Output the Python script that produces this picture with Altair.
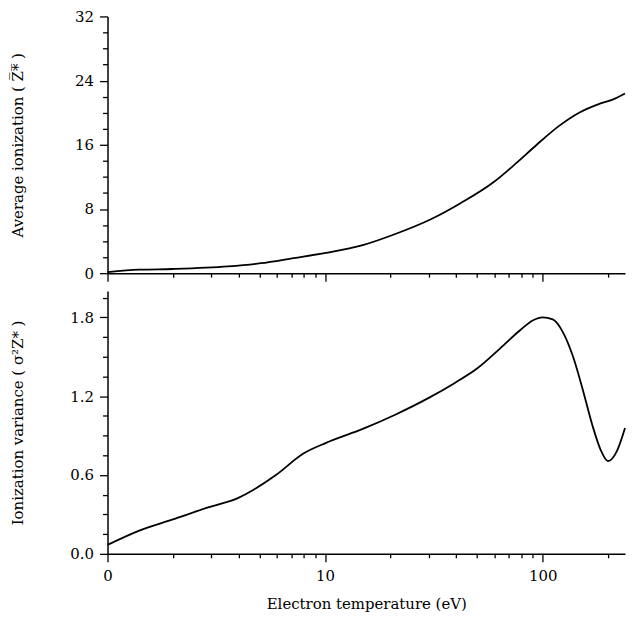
import altair as alt
import pandas as pd

# ---- data ----
temp_avg = [1.0, 1.40, 1.98, 3.58, 5.06, 7.16, 10.1, 14.9, 20.3, 30.8, 42.1, 59.6,
            76.0, 93.6, 119.4, 147.0, 181.0, 208.0, 239.0]
z_avg = [0.12, 0.43, 0.52, 0.84, 1.24, 1.88, 2.53, 3.50, 4.73, 6.75, 8.75, 11.36,
         13.77, 15.98, 18.39, 20.0, 21.08, 21.6, 22.4]

temp_var = [1.0, 1.40, 1.98, 2.90, 3.97, 5.92, 7.95, 10.1, 14.9, 21.0, 29.8, 39.3,
            50.1, 63.8, 78.7, 90.4, 99.7, 111.3, 123.6, 137.1, 152.2, 168.9, 184.4,
            199.6, 219.3, 239.0]
z_var = [0.068, 0.177, 0.26, 0.353, 0.424, 0.598, 0.764, 0.845, 0.951, 1.059, 1.185,
         1.299, 1.412, 1.564, 1.702, 1.778, 1.80, 1.785, 1.69, 1.513, 1.261, 0.983,
         0.794, 0.706, 0.782, 0.958]

x_major = [1, 10, 100]
x_minor = [2, 3, 4, 5, 6, 7, 8, 9, 20, 30, 40, 50, 60, 70, 80, 90, 200]
y1_major = [0, 8, 16, 24, 32]
y1_minor = [2, 4, 6, 10, 12, 14, 18, 20, 22, 26, 28, 30]
y2_major = [0.0, 0.6, 1.2, 1.8]
y2_minor = [0.15, 0.3, 0.45, 0.75, 0.9, 1.05, 1.35, 1.5, 1.65, 1.95]

df1 = pd.DataFrame({"T": temp_avg, "v": z_avg})
df2 = pd.DataFrame({"T": temp_var, "v": z_var})

FONT = "DejaVu Serif"
W = 520
H1 = 258
H2 = 264
xscale = alt.Scale(type="log", domain=[1, 239], nice=False)


def panel(df, ydomain, ymaj, ymin, yformat, ytitle, show_x_labels, H):
    yscale = alt.Scale(domain=ydomain, nice=False, zero=False)
    x_major_axis = alt.Axis(
        values=x_major, tickSize=8, labels=show_x_labels, format="d",
        labelExpr="datum.value == 1 ? '0' : datum.label",
        title="Electron temperature (eV)" if show_x_labels else None,
        labelPadding=7, titlePadding=13, labelFlush=False,
    )
    y_major_axis = alt.Axis(
        values=ymaj, tickSize=8, format=yformat, title=ytitle,
        titleX=-82, titleY=H / 2, labelPadding=6,
    )
    base = alt.Chart(df)
    main = base.mark_line(color="black", strokeWidth=1.8, interpolate="monotone").encode(
        x=alt.X("T:Q", scale=xscale, axis=x_major_axis),
        y=alt.Y("v:Q", scale=yscale, axis=y_major_axis),
    )
    minor = base.mark_line(strokeOpacity=0, interpolate="monotone").encode(
        x=alt.X("T:Q", scale=xscale,
                axis=alt.Axis(values=x_minor, tickSize=4, labels=False, domain=False,
                              title=None, orient="bottom")),
        y=alt.Y("v:Q", scale=yscale,
                axis=alt.Axis(values=ymin, tickSize=5, labels=False, domain=False,
                              title=None, orient="left")),
    )
    return alt.layer(main, minor).resolve_axis(x="independent", y="independent").properties(
        width=W, height=H
    )


top = panel(df1, [0, 32], y1_major, y1_minor, "d",
            "Average ionization ( Z\u0305*\u0305 )", False, H1)
bottom = panel(df2, [0, 2.0], y2_major, y2_minor, ".1f",
               "Ionization variance ( \u03c3\u00b2Z* )", True, H2)

chart = alt.vconcat(top, bottom, spacing=9).properties(
    padding={"left": 2, "top": 0, "right": 0, "bottom": 0}
).configure_view(stroke=None).configure_axis(
    grid=False,
    domainColor="black", domainWidth=1.5,
    tickColor="black", tickWidth=1.3,
    labelColor="black", titleColor="black",
    labelFont=FONT, titleFont=FONT,
    labelFontSize=15, titleFontSize=15, titleFontWeight="normal",
)

chart.save("out.html", embed_options={"renderer": "svg", "actions": False})
